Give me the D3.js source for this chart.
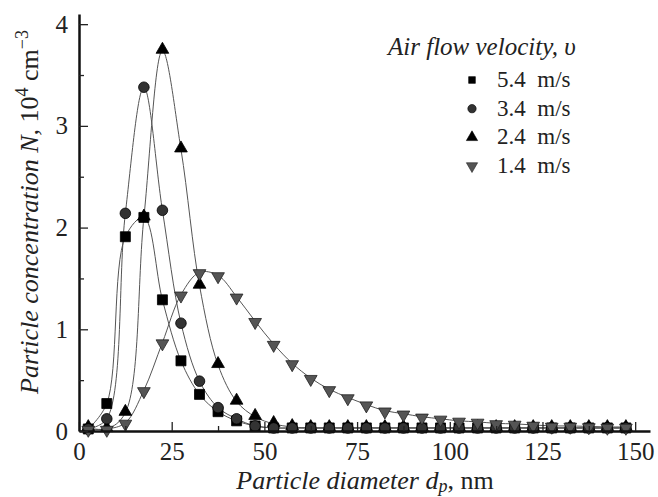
<!DOCTYPE html>
<html>
<head>
<meta charset="utf-8">
<script src="https://cdn.jsdelivr.net/npm/d3@7"></script>
<style>
  body { margin: 0; background: #fff; }
</style>
</head>
<body>
<svg id="drawing_region"></svg>
<script>
// particle diameter, nm
const diameters = [2.5, 7.5, 12.5, 17.5, 22.5, 27.5, 32.5, 37.5, 42.5, 47.5,
                   52.5, 57.5, 62.5, 67.5, 72.5, 77.5, 82.5, 87.5, 92.5, 97.5,
                   102.5, 107.5, 112.5, 117.5, 122.5, 127.5, 132.5, 137.5, 142.5, 147.5];

// concentration, 10^4 cm^-3
const v54 = [0.02, 0.27, 1.91, 2.10, 1.29, 0.69, 0.36, 0.19, 0.10, 0.05,
             0.03, 0.03, 0.03, 0.03, 0.03, 0.03, 0.03, 0.03, 0.03, 0.03,
             0.03, 0.03, 0.03, 0.03, 0.03, 0.03, 0.03, 0.03, 0.03, 0.03];
const v34 = [0.02, 0.12, 2.14, 3.38, 2.17, 1.06, 0.49, 0.23, 0.12, 0.05,
             0.03, 0.03, 0.03, 0.03, 0.03, 0.03, 0.03, 0.03, 0.03, 0.03,
             0.03, 0.03, 0.03, 0.03, 0.03, 0.03, 0.03, 0.03, 0.03, 0.03];
const v24 = [0.03, 0.02, 0.18, 2.10, 3.74, 2.77, 1.43, 0.65, 0.29, 0.14,
             0.07, 0.04, 0.03, 0.03, 0.03, 0.03, 0.03, 0.03, 0.03, 0.03,
             0.03, 0.03, 0.03, 0.03, 0.03, 0.03, 0.03, 0.03, 0.03, 0.03];
const v14 = [0.02, 0.02, 0.08, 0.40, 0.87, 1.34, 1.56, 1.53, 1.32, 1.08,
             0.855, 0.665, 0.52, 0.41, 0.33, 0.26, 0.20, 0.17, 0.14, 0.12,
             0.10, 0.09, 0.075, 0.07, 0.06, 0.05, 0.05, 0.045, 0.04, 0.04];

const seriesNames = ["5.4  m/s", "3.4  m/s", "2.4  m/s", "1.4  m/s"];
const xTicks = [0, 25, 50, 75, 100, 125, 150];
const yTicks = [0, 1, 2, 3, 4];

const width = 658, height = 497;
const serif = '"Liberation Serif"';

const svg = d3.select("#drawing_region")
    .attr("width", width)
    .attr("height", height)
    .style("font-family", serif);

const x = d3.scaleLinear().domain([0, 154]).range([79, 650]);
const y = d3.scaleLinear().domain([0, 4.1]).range([431, 14]);

// marker styles per series
const styles = [
    { values: v54, symbol: d3.symbolSquare, size: 100, rot: 0, fill: "#000", stroke: "#000" },
    { values: v34, symbol: d3.symbolCircle, size: 88, rot: 0, fill: "#333", stroke: "#000" },
    { values: v24, symbol: d3.symbolTriangle, size: 70, rot: 0, fill: "#000", stroke: "#000" },
    { values: v14, symbol: d3.symbolTriangle, size: 70, rot: 180, fill: "#555", stroke: "#222" }
];

svg.append("defs").append("clipPath").attr("id", "plot")
    .append("rect").attr("x", 79).attr("y", 0).attr("width", 580).attr("height", 431);

// fitted curves
const line = d3.line()
    .x((d, i) => x(diameters[i]))
    .y(d => y(d))
    .curve(d3.curveCatmullRom.alpha(0.5));

svg.append("g").attr("clip-path", "url(#plot)")
    .selectAll("path")
    .data(styles)
    .join("path")
    .attr("d", s => line(s.values))
    .attr("fill", "none")
    .attr("stroke", "#555")
    .attr("stroke-width", 1);

// markers: draw gray last
const order = [2, 0, 1, 3];
order.forEach(k => {
    const s = styles[k];
    const sym = d3.symbol().type(s.symbol).size(s.size);
    svg.append("g")
        .selectAll("path")
        .data(s.values)
        .join("path")
        .attr("d", sym)
        .attr("transform", (d, i) => {
            let cy = y(d);
            if (s.symbol === d3.symbolTriangle) cy += (s.rot ? 1 : -1);
            return `translate(${x(diameters[i])},${cy}) rotate(${s.rot})`;
        })
        .attr("fill", s.fill)
        .attr("stroke", s.stroke)
        .attr("stroke-width", 0.8);
});

// axes (ticks inward)
const xMinor = [12.5, 37.5, 62.5, 87.5, 112.5, 137.5];
const yMinor = [0.5, 1.5, 2.5, 3.5];

const xAxis = svg.append("g")
    .attr("transform", `translate(0,${y(0)})`)
    .call(d3.axisBottom(x).tickValues(xTicks).tickSize(-9).tickPadding(11).tickSizeOuter(0));
svg.append("g")
    .attr("transform", `translate(0,${y(0)})`)
    .call(d3.axisBottom(x).tickValues(xMinor).tickSize(-5).tickFormat("").tickSizeOuter(0))
    .select(".domain").remove();

const yAxis = svg.append("g")
    .attr("transform", `translate(${x(0)},0)`)
    .call(d3.axisLeft(y).tickValues(yTicks).tickFormat(d3.format("d"))
        .tickSize(-9).tickPadding(11).tickSizeOuter(0));
svg.append("g")
    .attr("transform", `translate(${x(0)},0)`)
    .call(d3.axisLeft(y).tickValues(yMinor).tickSize(-5).tickFormat("").tickSizeOuter(0))
    .select(".domain").remove();

svg.selectAll(".domain").attr("stroke", "#111").attr("stroke-width", 2.5);
svg.selectAll(".tick line").attr("stroke", "#222").attr("stroke-width", 1.3);
svg.selectAll(".tick text")
    .style("font-family", serif)
    .style("font-size", "25px")
    .attr("fill", "#222");

// axis titles
const xt = svg.append("text")
    .attr("x", 365).attr("y", 489)
    .attr("text-anchor", "middle")
    .style("font-family", serif)
    .style("font-size", "26px")
    .attr("fill", "#222");
xt.append("tspan").style("font-style", "italic").text("Particle diameter d");
xt.append("tspan").style("font-style", "italic").style("font-size", "18px").attr("dy", 3).text("p");
xt.append("tspan").attr("dy", -3).text(", nm");

const yt = svg.append("text")
    .attr("transform", "translate(38,212) rotate(-90)")
    .attr("text-anchor", "middle")
    .style("font-family", serif)
    .style("font-size", "26px")
    .attr("fill", "#222");
yt.append("tspan").style("font-style", "italic").text("Particle concentration N,");
yt.append("tspan").text(" 10");
yt.append("tspan").style("font-size", "18px").attr("dy", -10).text("4");
yt.append("tspan").attr("dy", 10).text(" cm");
yt.append("tspan").style("font-size", "18px").attr("dy", -10).text("\u22123");

// legend
const legend = svg.append("g");
legend.append("text")
    .attr("x", 388).attr("y", 55)
    .style("font-family", serif)
    .style("font-size", "25px")
    .style("font-style", "italic")
    .attr("fill", "#222")
    .text("Air flow velocity, \u03C5");

const ly = d3.scalePoint().domain(seriesNames).range([80, 166]);
const legendSizes = [45, 55, 55, 55];
seriesNames.forEach((name, k) => {
    const s = styles[k];
    const sym = d3.symbol().type(s.symbol).size(legendSizes[k]);
    legend.append("path")
        .attr("d", sym)
        .attr("transform", `translate(472,${ly(name)}) rotate(${s.rot})`)
        .attr("fill", s.fill)
        .attr("stroke", s.stroke)
        .attr("stroke-width", 0.6);
    legend.append("text")
        .attr("x", 497).attr("y", ly(name) + 7)
        .style("font-family", serif)
        .style("font-size", "23px")
        .attr("fill", "#222")
        .style("white-space", "pre")
        .text(name);
});
</script>
</body>
</html>
